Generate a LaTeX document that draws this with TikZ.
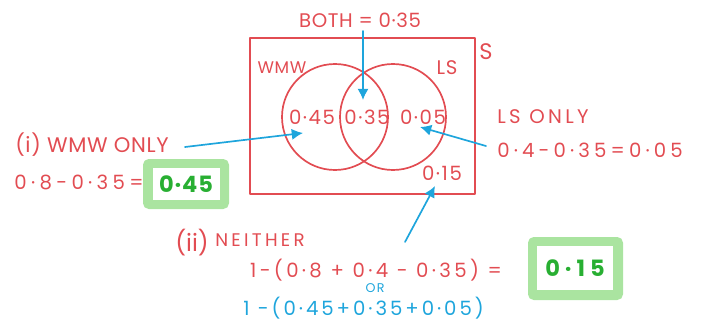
\documentclass[tikz,border=0pt]{standalone}
\usepackage{fontspec}
\setmainfont{Poppins}
\usepackage{tkz-euclide}
\usetikzlibrary{arrows.meta,calc}
\definecolor{PenRed}{RGB}{226,76,82}
\definecolor{PenBlue}{RGB}{30,165,220}
\definecolor{PenGreen}{RGB}{40,175,50}
\definecolor{BoxGreen}{RGB}{170,228,160}

\tikzset{
  redtxt/.style={text=PenRed,inner sep=0pt,font=\fontsize{14}{16}\selectfont\addfontfeature{LetterSpace=#1}},
  redtxt/.default=0,
  bluetxt/.style={text=PenBlue,inner sep=0pt,font=\fontsize{14}{16}\selectfont\addfontfeature{LetterSpace=#1}},
  bluetxt/.default=0,
  greentxt/.style={text=PenGreen,inner sep=0pt,font=\fontsize{16}{18}\selectfont\bfseries\addfontfeature{LetterSpace=#1}},
  greentxt/.default=6,
  pointer/.style={color=PenBlue,line width=1.2pt,-{Latex[length=8pt,width=8pt]}}
}

\begin{document}
\begin{tikzpicture}
\useasboundingbox (0,0) rectangle (17.575,-8.025);
\tkzSetUpLine[line width=1.2pt,color=PenRed]

% sample space and the two sets
\tkzDefPoint(6.25,-0.95){R1}
\tkzDefPoint(11.875,-0.95){R2}
\tkzDefPoint(11.875,-4.85){R3}
\tkzDefPoint(6.25,-4.85){R4}
\tkzDefPoint(8.375,-2.925){W}
\tkzDefPoint(8.375,-1.6){WW}
\tkzDefPoint(9.825,-2.925){L}
\tkzDefPoint(9.825,-1.6){LL}

\tkzDrawPolygon[line width=1.2pt,color=PenRed](R1,R2,R3,R4)
\tkzDrawCircles[line width=1.2pt,color=PenRed](W,WW L,LL)

\node[redtxt] (sS) at (12.15,-1.3) {\fontsize{16}{18}\selectfont S};
\node[redtxt,font=\fontsize{12}{14}\selectfont\addfontfeature{LetterSpace=4}] (sWMW) at (7.05,-1.7) {WMW};
\node[redtxt=4] (sLS) at (11.175,-1.7) {LS};
\node[redtxt=8] (pW) at (7.8,-2.925) {0·45};
\node[redtxt=8] (pB) at (9.175,-2.925) {0·35};
\node[redtxt=8] (pL) at (10.575,-2.925) {0·05};
\node[redtxt=8] (pN) at (11.05,-4.325) {0·15};

% working
\node[redtxt=3] (both) at (9.0,-0.5) {BOTH = 0·35};
\node[redtxt=17] (lsonly) at (13.575,-2.925) {LS ONLY};
\node[redtxt=21] (lscalc) at (14.75,-3.75) {0·4-0·35=0·05};
\node[redtxt,font=\fontsize{15}{17}\selectfont\addfontfeature{LetterSpace=3}] (wmwonly) at (2.3,-3.625) {(i) WMW ONLY};
\node[redtxt=22] (wmwcalc) at (1.975,-4.55) {0·8-0·35=};
\node[redtxt,font=\fontsize{17}{19}\selectfont] (nroman) at (4.8,-6.075) {(ii)};
\node[redtxt,font=\fontsize{13}{15}\selectfont\addfontfeature{LetterSpace=18}] (neither) at (6.5,-6.0) {NEITHER};
\node[redtxt=17] (ncalc) at (9.4,-6.75) {1-(0·8 + 0·4 - 0·35) =};
\node[bluetxt,font=\fontsize{9}{10}\selectfont\addfontfeature{LetterSpace=10}] (nor) at (9.375,-7.2) {OR};
\node[bluetxt=15] (nalt) at (9.09,-7.7) {1 -(0·45+0·35+0·05)};

% answer boxes
\tkzDefPoint(3.575,-3.975){A1}
\tkzDefPoint(5.725,-5.225){A3}
\tkzDefPoint(3.825,-4.2){a1}
\tkzDefPoint(5.5,-5.0){a3}
\fill[BoxGreen,rounded corners=4pt] (A1) rectangle (A3);
\fill[white] (a1) rectangle (a3);
\node[greentxt=4] (ans1) at (4.65,-4.6) {0·45};

\tkzDefPoint(13.2,-5.925){B1}
\tkzDefPoint(15.575,-7.5){B3}
\tkzDefPoint(13.425,-6.15){b1}
\tkzDefPoint(15.325,-7.25){b3}
\fill[BoxGreen,rounded corners=4pt] (B1) rectangle (B3);
\fill[white] (b1) rectangle (b3);
\node[greentxt=22] (ans2) at (14.375,-6.7) {0·15};

% pointers
\tkzDefPoint(9.075,-0.775){P1}
\tkzDefPoint(9.075,-2.5){Q1}
\tkzDefPoint(12.15,-3.65){P2}
\tkzDefPoint(10.5,-3.175){Q2}
\tkzDefPoint(4.625,-3.675){P3}
\tkzDefPoint(7.575,-3.325){Q3}
\tkzDefPoint(10.125,-6.05){P4}
\tkzDefPoint(10.875,-4.65){Q4}
\tkzDrawSegments[pointer](P1,Q1 P2,Q2 P3,Q3 P4,Q4)

\end{tikzpicture}
\end{document}
